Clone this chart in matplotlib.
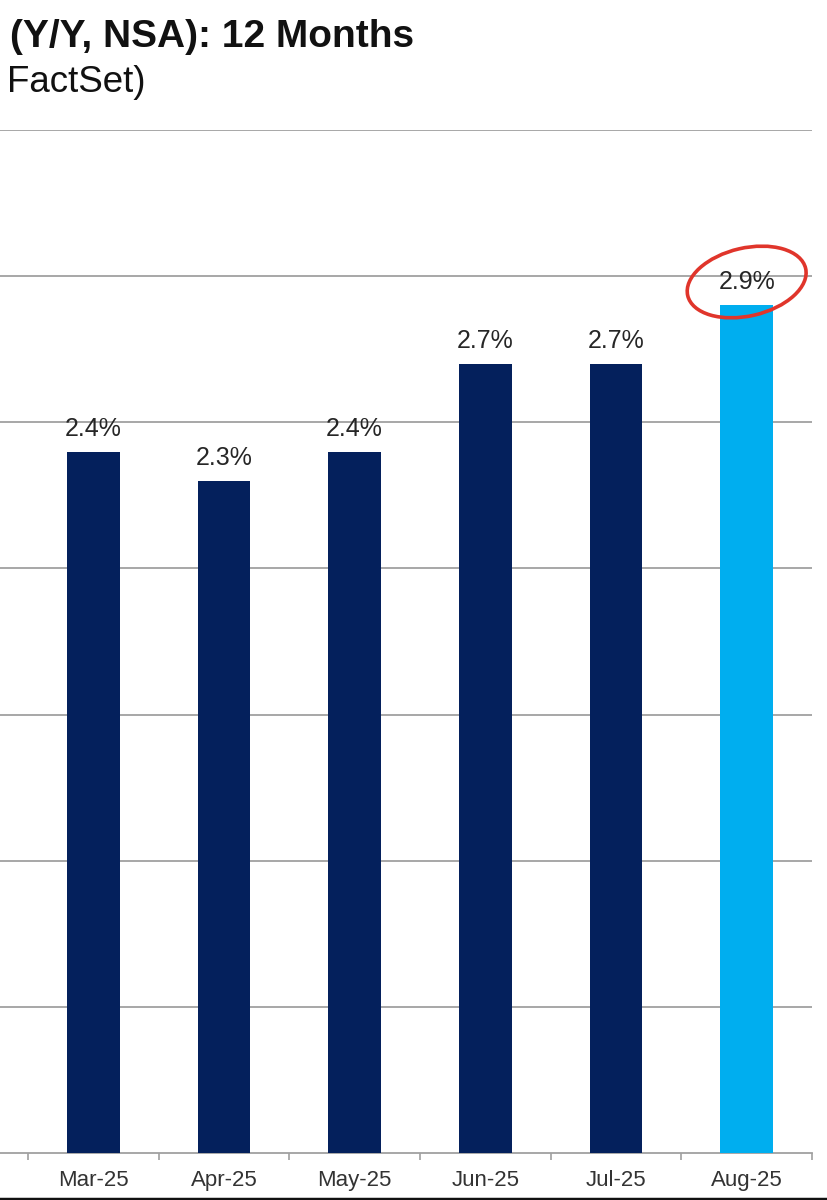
import matplotlib
matplotlib.use("Agg")
import matplotlib.pyplot as plt
from matplotlib.patches import Ellipse
from matplotlib.transforms import ScaledTranslation
from matplotlib.lines import Line2D

months = ["Mar-25", "Apr-25", "May-25", "Jun-25", "Jul-25", "Aug-25"]
values = [2.4, 2.3, 2.4, 2.7, 2.7, 2.9]
labels = ["2.4%", "2.3%", "2.4%", "2.7%", "2.7%", "2.9%"]
title_line1 = "(Y/Y, NSA): 12 Months"
title_line2 = "FactSet)"

navy = "#04205c"
light = "#00aeef"
colors = [navy] * 5 + [light]

plt.rcParams['font.family'] = ['Liberation Sans', 'DejaVu Sans']

W, H = 828, 1200
fig = plt.figure(figsize=(W / 100, H / 100), dpi=100)
ax = fig.add_axes([0, (H - 1153) / H, 812 / W, (1153 - 130) / H])

x = list(range(len(months)))
ax.bar(x, values, width=0.405, color=colors, zorder=3)
for xi, v, lab in zip(x, values, labels):
    ax.annotate(lab, (xi, v), xytext=(0, 11.5), textcoords="offset points",
                ha="center", va="baseline", fontsize=18, color="#262626", zorder=4)

ax.set_xlim(-0.5 - 28 / 130.67, 5.5)
ax.set_ylim(0, 3.5)
ax.set_yticks([0.5, 1.0, 1.5, 2.0, 2.5, 3.0, 3.5])
ax.yaxis.grid(True, color="#a0a0a0", linewidth=1.3, zorder=0)
ax.tick_params(axis="y", left=False, labelleft=False)
for s in ["left", "right", "top"]:
    ax.spines[s].set_visible(False)
ax.spines["bottom"].set_color("#a0a0a0")
ax.spines["bottom"].set_linewidth(1.3)

ax.set_xticks(x)
ax.set_xticklabels(months, fontsize=16, color="#333333")
ax.tick_params(axis="x", which="major", length=0, pad=12.5)
ax.set_xticks([i - 0.5 for i in range(len(months) + 1)], minor=True)
ax.tick_params(axis="x", which="minor", length=5, width=1.2, color="#a0a0a0", direction="out")

# red highlight ellipse around the last label
trans = fig.dpi_scale_trans + ScaledTranslation(5, 2.98, ax.transData)
ell = Ellipse((0, 0), 1.21, 0.68, angle=13, fill=False, edgecolor="#e0352b",
              linewidth=2.6, transform=trans, zorder=5, clip_on=False)
ax.add_patch(ell)

fig.text(10 / W, 1 - 47 / H, title_line1, fontsize=28, fontweight="bold",
         color="#111111", va="baseline", ha="left")
fig.text(7 / W, 1 - 92 / H, title_line2, fontsize=26.5, color="#111111",
         va="baseline", ha="left")

fig.add_artist(Line2D([0, 1], [1.5 / H, 1.5 / H], color="#111111", linewidth=2.5,
                      transform=fig.transFigure))

fig.savefig("out.png", dpi=100, facecolor="white")
